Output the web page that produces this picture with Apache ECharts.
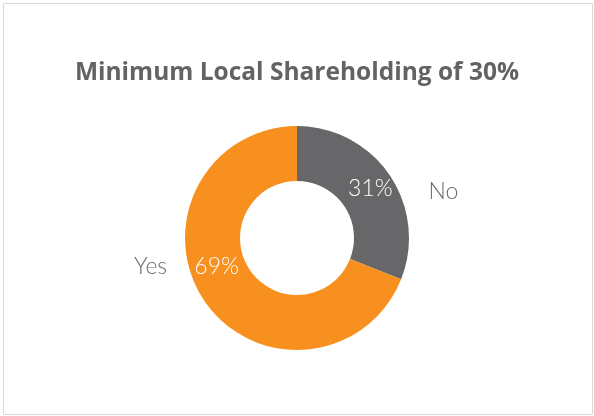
<!DOCTYPE html>
<html>
<head>
<meta charset="utf-8">
<script src="https://cdn.jsdelivr.net/npm/echarts@6/dist/echarts.min.js"></script>
<style>
html,body{margin:0;padding:0;background:#fff;}
#chart{width:594px;height:416px;}
</style>
</head>
<body>
<div id="chart"></div>
<script>
const titleText = 'Minimum Local Shareholding of 30%';
const categories = ['No', 'Yes'];
const values = [31, 69];

const colors = ['#676769', '#F7901E'];
const pctOffsets = [[1, 0], [-8, -21]];
const nameOffsets = [[74, 3], [-74, -21]];

const chart = echarts.init(document.getElementById('chart'), null, {renderer: 'canvas'});
const center = ['297', '238'];
const radius = [57, 112];

chart.setOption({
  animation: false,
  backgroundColor: '#ffffff',
  graphic: [{
    type: 'rect',
    shape: {x: 3.5, y: 3.5, width: 589, height: 411},
    style: {fill: 'none', stroke: '#d9d9d9', lineWidth: 1},
    silent: true,
    z: -10
  }],
  title: {
    text: titleText,
    left: 'center',
    top: 56,
    textStyle: {fontFamily: 'Open Sans', fontWeight: 700, fontSize: 24.5, color: '#636363'}
  },
  series: [{
    type: 'pie',
    center: center,
    radius: radius,
    startAngle: 90,
    clockwise: true,
    silent: true,
    itemStyle: {borderWidth: 0},
    label: {
      show: true,
      position: 'inside',
      formatter: p => p.value + '%',
      color: '#ffffff',
      fontFamily: 'Lato',
      fontWeight: 300,
      fontSize: 23
    },
    labelLine: {show: false},
    data: categories.map((c, i) => ({
      name: c, value: values[i],
      itemStyle: {color: colors[i]},
      label: {offset: pctOffsets[i]}
    }))
  }, {
    type: 'pie',
    center: center,
    radius: radius,
    startAngle: 90,
    clockwise: true,
    silent: true,
    itemStyle: {color: 'rgba(0,0,0,0)', borderWidth: 0},
    label: {
      show: true,
      position: 'inside',
      formatter: p => p.name,
      color: '#6b6b6b',
      fontFamily: 'Lato',
      fontWeight: 300,
      fontSize: 23
    },
    labelLine: {show: false},
    data: categories.map((c, i) => ({
      name: c, value: values[i],
      label: {offset: nameOffsets[i]}
    }))
  }]
});
</script>
</body>
</html>
